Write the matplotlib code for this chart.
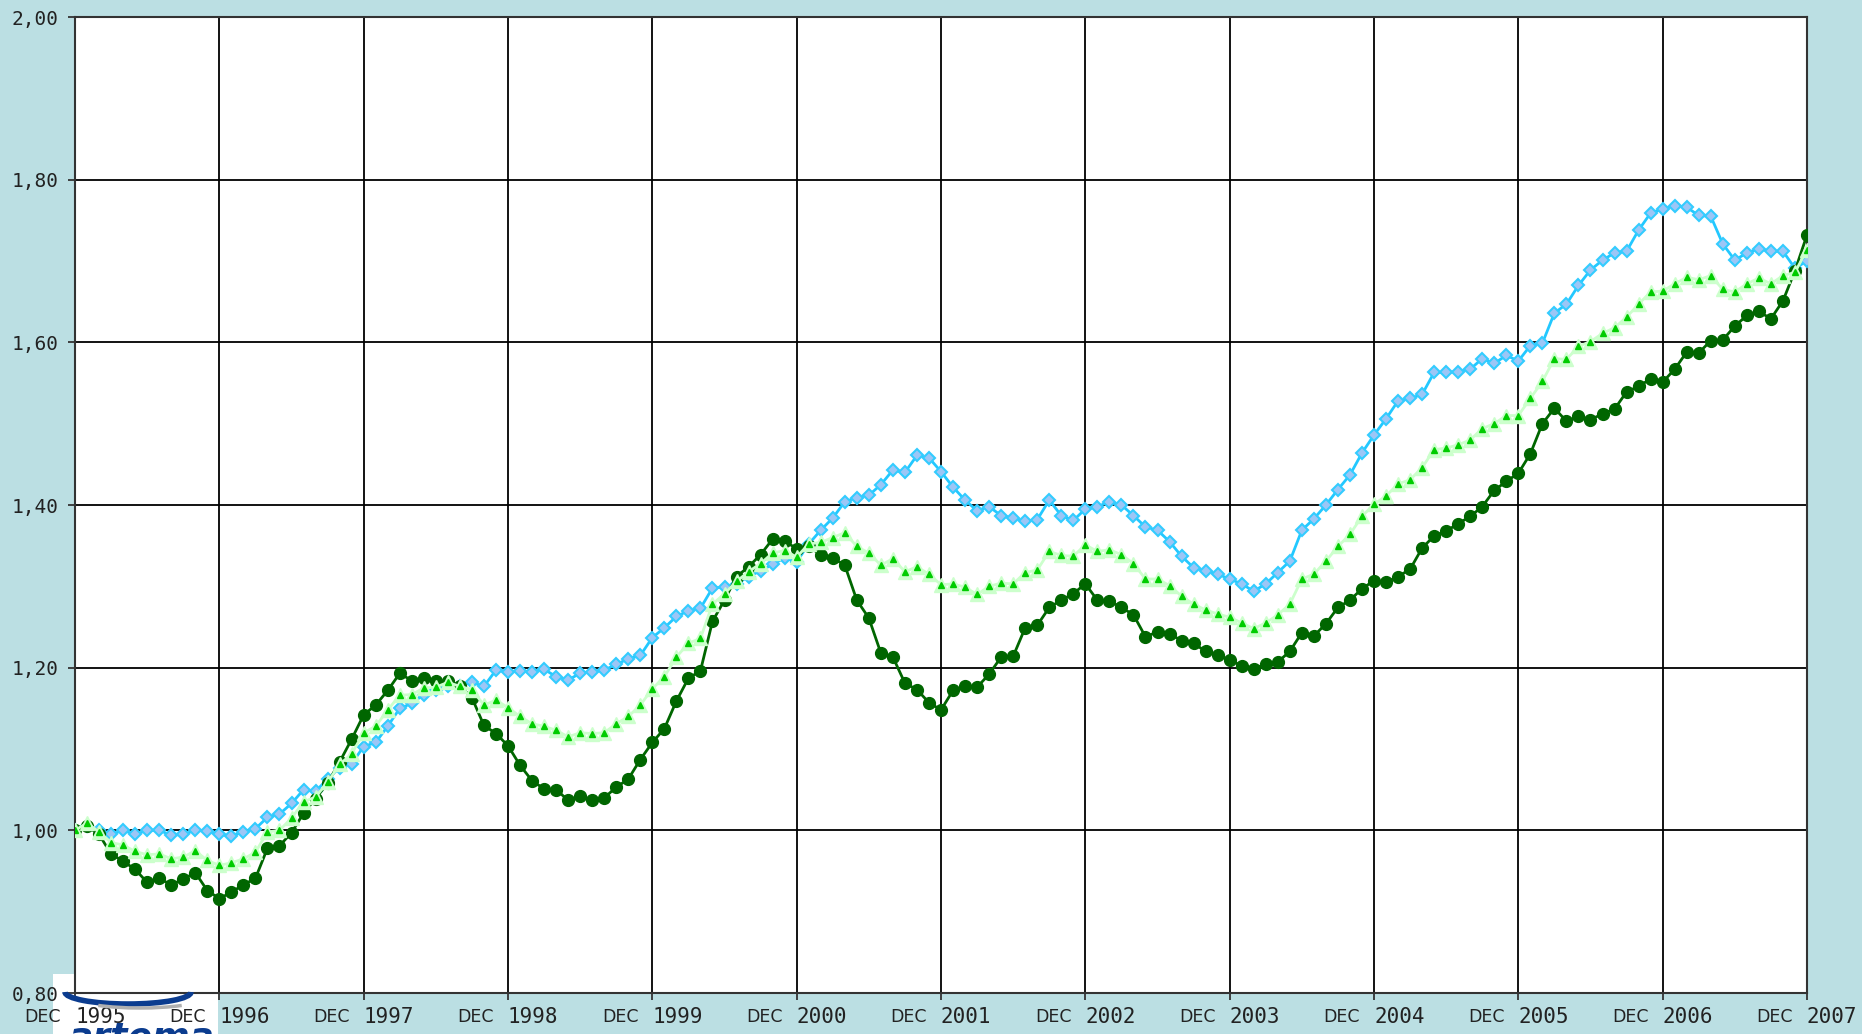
import numpy as np
import matplotlib.pyplot as plt
from matplotlib.patches import Rectangle, Arc

# Dados mensais: dez/1995 a dez/2007 (145 pontos), indice base = 1,00
anos = list(range(1995, 2008))
meses = np.arange(145)

serie_azul = [
    1.000, 1.005, 1.000, 0.995, 1.000, 0.995, 1.000, 1.000, 0.994, 0.995, 1.000, 0.999, 0.995,
    0.993, 0.998, 1.002, 1.016, 1.020, 1.033, 1.050, 1.048, 1.063, 1.077, 1.082, 1.103,
    1.108, 1.128, 1.150, 1.156, 1.167, 1.172, 1.178, 1.178, 1.182, 1.177, 1.197, 1.195,
    1.196, 1.195, 1.198, 1.189, 1.185, 1.193, 1.195, 1.197, 1.204, 1.211, 1.215, 1.237,
    1.249, 1.263, 1.270, 1.273, 1.298, 1.299, 1.303, 1.312, 1.319, 1.327, 1.335, 1.330,
    1.352, 1.369, 1.384, 1.404, 1.409, 1.412, 1.425, 1.443, 1.440, 1.461, 1.458, 1.441,
    1.422, 1.406, 1.393, 1.398, 1.387, 1.384, 1.380, 1.382, 1.406, 1.387, 1.381, 1.395,
    1.398, 1.404, 1.400, 1.387, 1.373, 1.369, 1.355, 1.337, 1.323, 1.319, 1.315, 1.309,
    1.303, 1.294, 1.303, 1.317, 1.331, 1.369, 1.383, 1.400, 1.419, 1.437, 1.464, 1.486,
    1.506, 1.528, 1.531, 1.536, 1.563, 1.563, 1.564, 1.567, 1.580, 1.574, 1.584, 1.577,
    1.596, 1.599, 1.636, 1.647, 1.670, 1.689, 1.701, 1.710, 1.712, 1.738, 1.759, 1.764,
    1.768, 1.766, 1.756, 1.755, 1.721, 1.701, 1.710, 1.715, 1.712, 1.712, 1.691, 1.700,
]

serie_escura = [
    1.000, 1.005, 0.995, 0.971, 0.962, 0.952, 0.936, 0.941, 0.933, 0.940, 0.948, 0.926, 0.916,
    0.924, 0.933, 0.941, 0.978, 0.981, 0.997, 1.021, 1.039, 1.058, 1.084, 1.112, 1.142,
    1.154, 1.172, 1.193, 1.184, 1.187, 1.183, 1.184, 1.178, 1.163, 1.129, 1.119, 1.104,
    1.080, 1.061, 1.051, 1.050, 1.037, 1.042, 1.037, 1.040, 1.053, 1.063, 1.087, 1.108,
    1.125, 1.159, 1.187, 1.196, 1.257, 1.283, 1.312, 1.324, 1.339, 1.358, 1.356, 1.346,
    1.350, 1.338, 1.335, 1.326, 1.283, 1.261, 1.218, 1.213, 1.181, 1.173, 1.157, 1.148,
    1.172, 1.177, 1.176, 1.192, 1.213, 1.214, 1.249, 1.252, 1.274, 1.283, 1.291, 1.303,
    1.283, 1.282, 1.274, 1.265, 1.238, 1.244, 1.242, 1.233, 1.230, 1.220, 1.215, 1.210,
    1.202, 1.198, 1.205, 1.207, 1.220, 1.243, 1.239, 1.254, 1.274, 1.283, 1.297, 1.307,
    1.305, 1.312, 1.321, 1.347, 1.362, 1.368, 1.377, 1.386, 1.398, 1.418, 1.429, 1.439,
    1.463, 1.500, 1.519, 1.503, 1.509, 1.505, 1.512, 1.518, 1.539, 1.546, 1.555, 1.551,
    1.567, 1.588, 1.587, 1.602, 1.603, 1.620, 1.633, 1.638, 1.629, 1.651, 1.688, 1.732,
]

serie_clara = [
    1.000, 1.009, 0.998, 0.985, 0.982, 0.974, 0.970, 0.971, 0.965, 0.967, 0.975, 0.963, 0.957,
    0.960, 0.965, 0.973, 0.998, 1.000, 1.015, 1.035, 1.041, 1.059, 1.081, 1.094, 1.120,
    1.128, 1.148, 1.166, 1.167, 1.175, 1.176, 1.182, 1.177, 1.173, 1.154, 1.160, 1.151,
    1.140, 1.131, 1.128, 1.123, 1.115, 1.120, 1.119, 1.120, 1.131, 1.140, 1.154, 1.174,
    1.189, 1.213, 1.230, 1.236, 1.278, 1.291, 1.306, 1.318, 1.328, 1.341, 1.344, 1.336,
    1.352, 1.354, 1.360, 1.366, 1.349, 1.341, 1.326, 1.334, 1.318, 1.324, 1.315, 1.302,
    1.303, 1.299, 1.290, 1.300, 1.304, 1.303, 1.317, 1.320, 1.343, 1.338, 1.337, 1.351,
    1.343, 1.345, 1.339, 1.328, 1.309, 1.309, 1.301, 1.288, 1.278, 1.271, 1.266, 1.262,
    1.255, 1.248, 1.255, 1.265, 1.278, 1.309, 1.315, 1.331, 1.349, 1.364, 1.386, 1.401,
    1.411, 1.426, 1.431, 1.446, 1.468, 1.470, 1.474, 1.480, 1.494, 1.500, 1.510, 1.510,
    1.531, 1.552, 1.580, 1.579, 1.595, 1.601, 1.611, 1.618, 1.631, 1.647, 1.662, 1.663,
    1.672, 1.680, 1.677, 1.682, 1.665, 1.662, 1.672, 1.679, 1.672, 1.682, 1.686, 1.714,
]

y_ticks = [0.80, 1.00, 1.20, 1.40, 1.60, 1.80, 2.00]

W, H = 1862, 1034
fig = plt.figure(figsize=(W / 100, H / 100), dpi=100, facecolor='#bbdfe3')
ax = fig.add_axes([75 / W, 1 - 993 / H, (1807 - 75) / W, (993 - 17) / H])
ax.set_facecolor('white')

# series
ax.plot(meses, serie_azul, color='#22c8ff', lw=2, marker='D', ms=6,
        mfc='#9cc6f6', mec='#33ccff', mew=1.5, zorder=3)
ax.plot(meses, serie_escura, color='#006600', lw=2, marker='o', ms=8.5,
        mfc='#006600', mec='#006600', zorder=4)
ax.plot(meses, serie_clara, color='#ccffcc', lw=2, marker='^', ms=9.5,
        mfc='#ccffcc', mec='#ccffcc', zorder=5)
ax.plot(meses, serie_clara, ls='none', marker='^', ms=4.5,
        mfc='#00cc00', mec='#00cc00', zorder=6)

ax.set_xlim(0, 144)
ax.set_ylim(0.80, 2.00)
ax.set_xticks(np.arange(0, 145, 12))
ax.set_xticklabels([])
ax.set_yticks(y_ticks)
ax.set_yticklabels([f'{v:.2f}'.replace('.', ',') for v in y_ticks],
                   family='DejaVu Sans Mono', fontsize=14, color='#222222')
ax.tick_params(axis='both', direction='out', length=5, width=1.3, color='#333333', pad=7)
ax.grid(True, color='black', lw=1.3)
ax.set_axisbelow(True)
for s in ax.spines.values():
    s.set_color('#333333')
    s.set_linewidth(1.5)

# rotulos do eixo x: "DEC" + ano
for i, ano in enumerate(anos):
    ax.annotate('DEC', xy=(i * 12, 0.80), xycoords='data', xytext=(-10, -17),
                textcoords='offset points', ha='right', va='center',
                fontsize=12.5, family='DejaVu Sans', color='#222222', zorder=10)
    ax.annotate(str(ano), xy=(i * 12, 0.80), xycoords='data', xytext=(0, -17),
                textcoords='offset points', ha='left', va='center',
                fontsize=15, family='DejaVu Sans Mono', color='#222222', zorder=10)

# logo no canto inferior esquerdo (cortado na borda)
fig.patches.append(Rectangle((53 / W, 0), 165 / W, 60 / H, transform=fig.transFigure,
                             facecolor='white', edgecolor='none', zorder=-1))
fig.patches.append(Arc((128 / W, 1 - 992 / H), 126 / W, 24 / H, theta1=180, theta2=360,
                       transform=fig.transFigure, color='#0b3c8f', lw=4, zorder=5))
fig.patches.append(Arc((140 / W, 1 - 997 / H), 130 / W, 22 / H, theta1=200, theta2=340,
                       transform=fig.transFigure, color='#b0b0b0', lw=2.5, zorder=5))
fig.text(68 / W, 1 - 1021 / H, 'artema', ha='left', va='top', fontsize=26,
         fontweight='bold', style='italic', color='#0b3c8f', zorder=4)

fig.savefig('out.png', dpi=100, facecolor=fig.get_facecolor())
